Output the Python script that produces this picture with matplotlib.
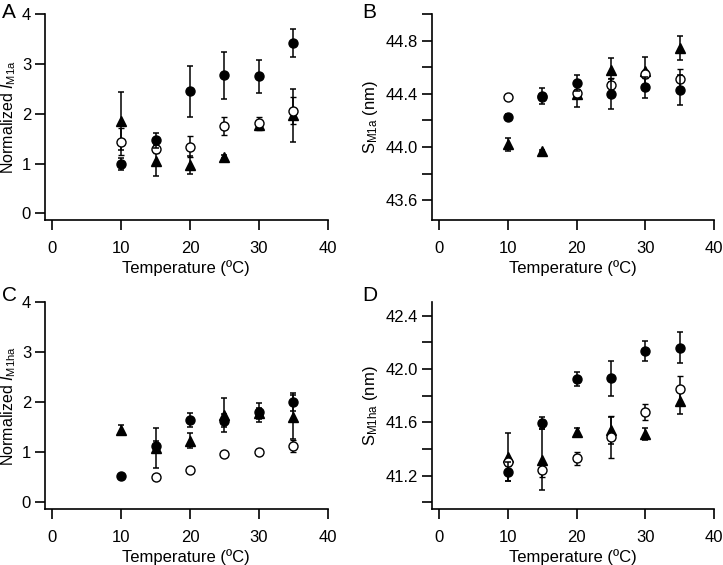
import matplotlib
matplotlib.use("Agg")
import matplotlib.pyplot as plt
import numpy as np
from matplotlib.ticker import MultipleLocator, FormatStrFormatter

plt.rcParams['font.family'] = ['Liberation Sans', 'DejaVu Sans']
plt.rcParams['mathtext.fontset'] = 'custom'
plt.rcParams['mathtext.rm'] = 'Liberation Sans'
plt.rcParams['mathtext.it'] = 'Liberation Sans:italic'

# temperatures (C)
temps = [10, 15, 20, 25, 30, 35]

# panel A: normalized I_M1a
a_filled = [1.00, 1.47, 2.45, 2.77, 2.75, 3.43]
a_filled_err = [0.12, 0.15, 0.52, 0.47, 0.33, 0.28]
a_open = [1.44, 1.29, 1.34, 1.76, 1.81, 2.06]
a_open_err = [0.27, 0.07, 0.21, 0.18, 0.13, 0.27]
a_tri = [1.86, 1.06, 0.97, 1.14, 1.77, 1.97]
a_tri_err = [0.58, 0.31, 0.19, 0.03, 0.06, 0.53]

# panel B: S_M1a (nm)
b_filled = [44.225, 44.385, 44.48, 44.40, 44.45, 44.43]
b_filled_err = [0.02, 0.06, 0.06, 0.11, 0.08, 0.11]
b_open = [44.38, 44.38, 44.405, 44.47, 44.55, 44.51]
b_open_err = [0.02, 0.02, 0.03, 0.05, 0.03, 0.08]
b_tri = [44.02, 43.97, 44.40, 44.58, 44.57, 44.745]
b_tri_err = [0.05, 0.01, 0.10, 0.09, 0.11, 0.09]

# panel C: normalized I_M1ha
c_filled = [0.51, 1.12, 1.64, 1.62, 1.79, 2.00]
c_filled_err = [0.02, 0.10, 0.14, 0.13, 0.19, 0.18]
c_open = [np.nan, 0.49, 0.64, 0.95, 0.99, 1.12]
c_open_err = [np.nan, 0.03, 0.03, 0.03, 0.03, 0.12]
c_tri = [1.44, 1.07, 1.22, 1.74, 1.77, 1.70]
c_tri_err = [0.10, 0.40, 0.15, 0.35, 0.12, 0.45]

# panel D: S_M1ha (nm)
d_filled = [41.23, 41.595, 41.925, 41.93, 42.135, 42.16]
d_filled_err = [0.07, 0.045, 0.05, 0.13, 0.075, 0.115]
d_open = [41.30, 41.24, 41.33, 41.49, 41.68, 41.85]
d_open_err = [0.03, 0.05, 0.05, 0.16, 0.06, 0.10]
d_tri = [41.34, 41.32, 41.53, 41.54, 41.51, 41.76]
d_tri_err = [0.18, 0.23, 0.03, 0.10, 0.045, 0.10]


def draw_panel(ax, filled, filled_err, opn, opn_err, tri, tri_err,
               ylim, major, minor, fmt, ylabel, ylabel_size, ylabel_pad):
    eb = dict(capsize=2.3, elinewidth=1.1, capthick=1.1, ecolor='black', linestyle='none')
    ax.errorbar(temps, tri, yerr=tri_err, marker='^', ms=7.2, mfc='black', mec='black',
                zorder=2, **eb)
    ax.errorbar(temps, opn, yerr=opn_err, marker='o', ms=6.5, mfc='white', mec='black',
                mew=1.0, zorder=3, **eb)
    ax.errorbar(temps, filled, yerr=filled_err, marker='o', ms=6.5, mfc='black', mec='black',
                zorder=4, **eb)

    ax.set_xlim(-1.06, 40)
    ax.set_ylim(*ylim)
    ax.xaxis.set_major_locator(MultipleLocator(10))
    ax.yaxis.set_major_locator(MultipleLocator(major))
    if minor:
        ax.yaxis.set_minor_locator(MultipleLocator(minor))
    ax.yaxis.set_major_formatter(FormatStrFormatter(fmt))
    for s in ['top', 'right']:
        ax.spines[s].set_visible(False)
    for s in ['left', 'bottom']:
        ax.spines[s].set_linewidth(1.2)
    ax.tick_params(which='both', direction='out', length=7, width=1.2, labelsize=12)
    ax.tick_params(axis='x', pad=8)
    ax.tick_params(axis='y', pad=3)
    ax.set_xlabel('Temperature (ºC)', fontsize=12, labelpad=3)
    ax.set_ylabel(ylabel, fontsize=ylabel_size, labelpad=ylabel_pad)


fig = plt.figure(figsize=(7.23, 5.65), dpi=100)
axA = fig.add_axes([0.0622, 0.6106, 0.391, 0.3641])
axB = fig.add_axes([0.5971, 0.6106, 0.3909, 0.3641])
axC = fig.add_axes([0.0622, 0.0991, 0.391, 0.3658])
axD = fig.add_axes([0.5971, 0.0991, 0.3909, 0.3658])

draw_panel(axA, a_filled, a_filled_err, a_open, a_open_err, a_tri, a_tri_err,
           (-0.135, 4.0), 1, None, '%d', r'Normalized $\mathit{I}_{\mathrm{M1a}}$', 11.5, 3)
draw_panel(axB, b_filled, b_filled_err, b_open, b_open_err, b_tri, b_tri_err,
           (43.45, 45.0), 0.4, 0.2, '%.1f', r'S$_{\mathrm{M1a}}$ (nm)', 12, 4)
draw_panel(axC, c_filled, c_filled_err, c_open, c_open_err, c_tri, c_tri_err,
           (-0.146, 4.0), 1, None, '%d', r'Normalized $\mathit{I}_{\mathrm{M1ha}}$', 11.5, 3)
draw_panel(axD, d_filled, d_filled_err, d_open, d_open_err, d_tri, d_tri_err,
           (40.95, 42.5), 0.4, 0.2, '%.1f', r'S$_{\mathrm{M1ha}}$ (nm)', 12, 4)

for lab, x, y in [('A', 2, 18), ('B', 362, 18), ('C', 2, 301), ('D', 362, 301)]:
    fig.text(x / 723, 1 - y / 565, lab, fontsize=15, ha='left', va='baseline')

fig.savefig('out.png', dpi=100)
